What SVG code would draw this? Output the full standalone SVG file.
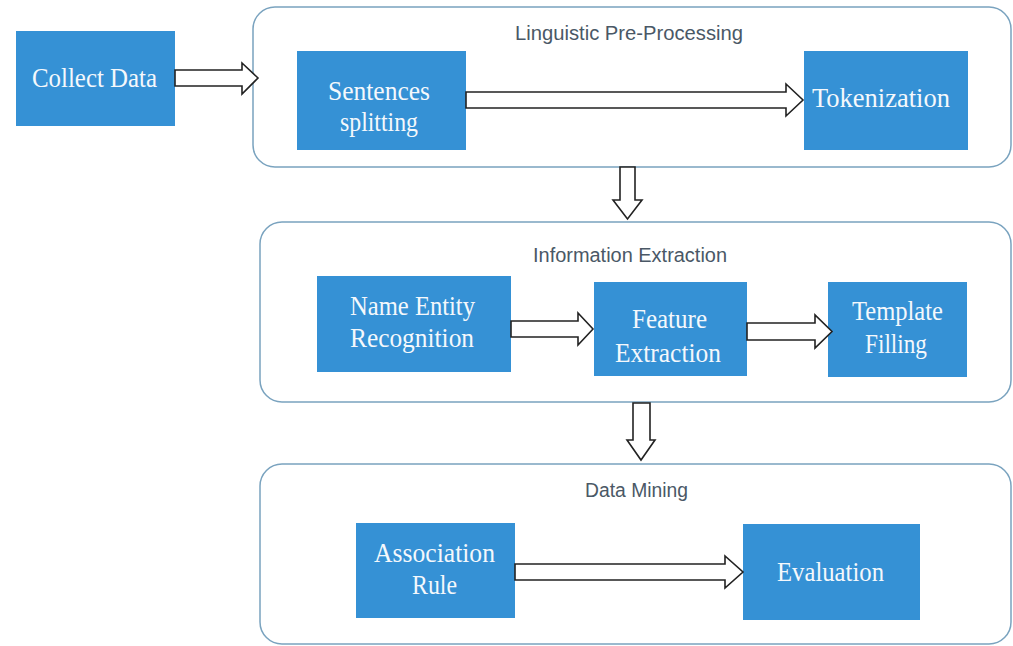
<svg xmlns="http://www.w3.org/2000/svg" width="1013" height="646" viewBox="0 0 1013 646">
<style>
.bg{fill:#ffffff}
.group{fill:#ffffff;stroke:#7aa3bf;stroke-width:1.5}
.box{fill:#3591d5}
.lbl{font-family:"Liberation Serif","Times New Roman",serif;font-size:28px;fill:#f4f8fc;text-anchor:middle}
.ttl{font-family:"Liberation Sans",Arial,sans-serif;font-size:20px;fill:#4a5866;text-anchor:middle}
.arr{fill:#ffffff;stroke:#222222;stroke-width:1.6;stroke-linejoin:miter}
</style>
<rect class="bg" x="0" y="0" width="1013" height="646"/>

<g id="group-linguistic">
<rect class="group" x="253" y="7" width="758" height="160" rx="22" ry="22"/>
<text class="ttl" x="629" y="40" textLength="228" lengthAdjust="spacingAndGlyphs">Linguistic Pre-Processing</text>
</g>
<g id="group-information">
<rect class="group" x="260" y="222" width="751" height="180" rx="22" ry="22"/>
<text class="ttl" x="630" y="262" textLength="194" lengthAdjust="spacingAndGlyphs">Information Extraction</text>
</g>
<g id="group-mining">
<rect class="group" x="260" y="464" width="751" height="180" rx="22" ry="22"/>
<text class="ttl" x="636.5" y="497" textLength="103" lengthAdjust="spacingAndGlyphs">Data Mining</text>
</g>

<g id="collect-data">
<rect class="box" x="16" y="31" width="159" height="95"/>
<text class="lbl" x="94.5" y="87" textLength="125" lengthAdjust="spacingAndGlyphs">Collect Data</text>
</g>
<g id="sentences-splitting">
<rect class="box" x="297" y="51" width="169" height="99"/>
<text class="lbl" x="379" y="100" textLength="102" lengthAdjust="spacingAndGlyphs">Sentences</text>
<text class="lbl" x="379" y="131" textLength="78" lengthAdjust="spacingAndGlyphs">splitting</text>
</g>
<g id="tokenization">
<rect class="box" x="804" y="51" width="164" height="99"/>
<text class="lbl" x="881" y="107" textLength="138" lengthAdjust="spacingAndGlyphs">Tokenization</text>
</g>
<g id="name-entity-recognition">
<rect class="box" x="317" y="276" width="194" height="96"/>
<text class="lbl" x="412.5" y="315" textLength="125" lengthAdjust="spacingAndGlyphs">Name Entity</text>
<text class="lbl" x="412" y="347" textLength="124" lengthAdjust="spacingAndGlyphs">Recognition</text>
</g>
<g id="feature-extraction">
<rect class="box" x="594" y="282" width="153" height="94"/>
<text class="lbl" x="669.5" y="328" textLength="75" lengthAdjust="spacingAndGlyphs">Feature</text>
<text class="lbl" x="668" y="362" textLength="106" lengthAdjust="spacingAndGlyphs">Extraction</text>
</g>
<g id="template-filling">
<rect class="box" x="828" y="282" width="139" height="95"/>
<text class="lbl" x="897.5" y="320" textLength="91" lengthAdjust="spacingAndGlyphs">Template</text>
<text class="lbl" x="896" y="353" textLength="62" lengthAdjust="spacingAndGlyphs">Filling</text>
</g>
<g id="association-rule">
<rect class="box" x="356" y="523" width="159" height="95"/>
<text class="lbl" x="434.5" y="562" textLength="121" lengthAdjust="spacingAndGlyphs">Association</text>
<text class="lbl" x="434.5" y="594" textLength="45" lengthAdjust="spacingAndGlyphs">Rule</text>
</g>
<g id="evaluation">
<rect class="box" x="743" y="524" width="177" height="96"/>
<text class="lbl" x="830.5" y="581" textLength="107" lengthAdjust="spacingAndGlyphs">Evaluation</text>
</g>

<g id="connectors">
<polygon class="arr" points="175,70 242,70 242,63 258,78 242,94 242,86 175,86"/>
<polygon class="arr" points="466,92 786,92 786,84 803,100 786,116 786,108 466,108"/>
<polygon class="arr" points="620,167 635,167 635,200 642,200 627.5,219 613,200 620,200"/>
<polygon class="arr" points="511,321 578,321 578,313 593,329 578,345 578,337 511,337"/>
<polygon class="arr" points="747,323 815,323 815,315 832,331.5 815,348 815,340 747,340"/>
<polygon class="arr" points="633,403 650,403 650,440 655,440 641,460 627,440 633,440"/>
<polygon class="arr" points="515,564 725,564 725,556 743,572 725,588 725,580 515,580"/>
</g>
</svg>
